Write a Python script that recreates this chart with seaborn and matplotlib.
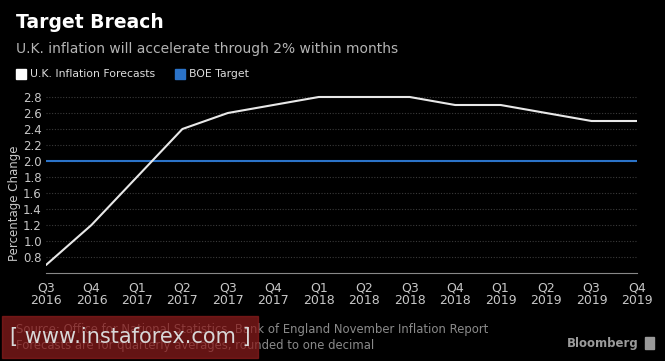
import matplotlib
matplotlib.use("Agg")
import matplotlib.pyplot as plt
import seaborn as sns
import pandas as pd
from matplotlib.patches import Rectangle

quarters = ["Q3\n2016", "Q4\n2016", "Q1\n2017", "Q2\n2017", "Q3\n2017", "Q4\n2017",
            "Q1\n2018", "Q2\n2018", "Q3\n2018", "Q4\n2018", "Q1\n2019", "Q2\n2019",
            "Q3\n2019", "Q4\n2019"]
forecast = [0.7, 1.2, 1.8, 2.4, 2.6, 2.7, 2.8, 2.8, 2.8, 2.7, 2.7, 2.6, 2.5, 2.5]
boe_target = [2.0] * len(quarters)
y_ticks = [0.8, 1.0, 1.2, 1.4, 1.6, 1.8, 2.0, 2.2, 2.4, 2.6, 2.8]

sns.set_theme(style="dark")
plt.rcParams['font.family'] = ['DejaVu Sans']
NARROW = ['Liberation Sans Narrow', 'DejaVu Sans']

BG = "#000000"
WHITE = "#e8e8e8"
BLUE = "#2b73c8"
TICK = "#c8c8c8"

df = pd.DataFrame({"x": range(len(quarters)), "forecast": forecast, "target": boe_target})

fig = plt.figure(figsize=(6.65, 3.61), dpi=100, facecolor=BG)
ax = fig.add_axes([46/665, 1 - 273/361, (637 - 46)/665, (273 - 89)/361])
ax.set_facecolor(BG)

for y in y_ticks:
    ax.axhline(y, color="#3a3a3a", lw=0.8, ls=(0, (1, 1.5)), zorder=1)

sns.lineplot(data=df, x="x", y="target", ax=ax, color=BLUE, lw=1.5, zorder=3)
sns.lineplot(data=df, x="x", y="forecast", ax=ax, color=WHITE, lw=1.5, zorder=4)

ax.set_xlim(0, len(quarters) - 1)
ax.set_ylim(0.6, 2.9)
ax.set_xticks(range(len(quarters)))
ax.set_xticklabels(quarters, color=TICK, fontsize=9, linespacing=0.95, family=NARROW)
ax.set_yticks(y_ticks)
ax.set_yticklabels([f"{v:.1f}" for v in y_ticks], color=TICK, fontsize=8.5)
ax.tick_params(axis="x", length=3, color="#888888", pad=3, direction="out")
ax.tick_params(axis="y", length=0, pad=3)
ax.grid(False)
for s in ["top", "right", "left"]:
    ax.spines[s].set_visible(False)
ax.spines["bottom"].set_color("#888888")
ax.spines["bottom"].set_linewidth(0.8)
ax.set_xlabel("")
ax.set_ylabel("Percentage Change", color=TICK, fontsize=8.5)
ax.yaxis.set_label_coords(-0.042, 0.38)

# Titles
fig.text(16/665, 1 - 22/361, "Target Breach", color="white", fontsize=13.5,
         fontweight="bold", va="center", ha="left")
fig.text(16/665, 1 - 49/361, "U.K. inflation will accelerate through 2% within months",
         color="#b4b4b4", fontsize=10, va="center", ha="left")

# Legend
fig.patches.append(Rectangle((16/665, 1 - 79/361), 10/665, 10/361, transform=fig.transFigure,
                             color="white", figure=fig))
fig.text(30/665, 1 - 74/361, "U.K. Inflation Forecasts", color="#dddddd", fontsize=7.8,
         va="center", ha="left")
fig.patches.append(Rectangle((175/665, 1 - 79/361), 10/665, 10/361, transform=fig.transFigure,
                             color=BLUE, figure=fig))
fig.text(189/665, 1 - 74/361, "BOE Target", color="#dddddd", fontsize=7.8,
         va="center", ha="left")

# Footer
fig.text(16/665, 1 - 330/361,
         "Source: Office for National Statistics, Bank of England November Inflation Report",
         color="#8a8a8a", fontsize=8.4, va="center", ha="left", zorder=5)
fig.text(16/665, 1 - 345/361,
         "Forecasts are for quarterly averages, rounded to one decimal",
         color="#8a8a8a", fontsize=8.4, va="center", ha="left", zorder=5)
fig.text(639/665, 1 - 343/361, "Bloomberg", color="#9a9a9a", fontsize=8.5,
         fontweight="bold", va="center", ha="right")
fig.patches.append(Rectangle((645/665, 1 - 349/361), 9/665, 12/361, transform=fig.transFigure,
                             color="#9a9a9a", figure=fig))

# Watermark overlay
fig.patches.append(Rectangle((2/665, 1 - 358/361), 256/665, 42/361, transform=fig.transFigure,
                             color="#8c1c1c", alpha=0.72, figure=fig, zorder=10))
fig.text(10/665, 1 - 337/361, "[ www.instaforex.com ]", color="#d8d8d8", fontsize=15,
         va="center", ha="left", zorder=13)

fig.savefig("out.png", dpi=100, facecolor=BG)
